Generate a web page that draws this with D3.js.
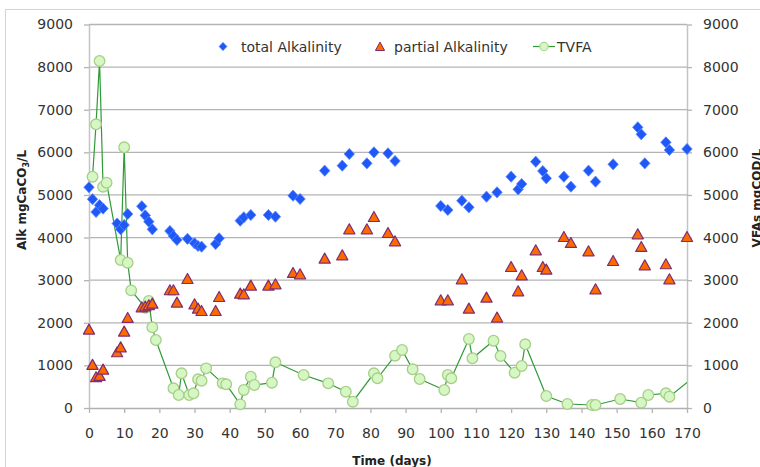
<!DOCTYPE html>
<html>
<head>
<meta charset="utf-8">
<script src="https://cdn.jsdelivr.net/npm/d3@7"></script>
<style>
  html, body { margin: 0; padding: 0; background: #ffffff; }
  svg { display: block; font-family: "DejaVu Sans", sans-serif; }
</style>
</head>
<body>
<svg id="chart" width="760" height="467"></svg>
<script>
// Sampling days shared by both alkalinity measurements
const alkDays = [0, 1, 2, 3, 4, 8, 9, 10, 11, 15, 16, 17, 18, 23, 24, 25, 28, 30, 31, 32,
  36, 37, 43, 44, 46, 51, 53, 58, 60, 67, 72, 74, 79, 81, 85, 87, 100, 102, 106, 108,
  113, 116, 120, 122, 123, 127, 129, 130, 135, 137, 142, 144, 149, 156, 157, 158, 164, 165, 170];

// Total alkalinity, mgCaCO3/L
const totalAlk = [5180, 4900, 4600, 4760, 4680, 4330, 4194, 4295, 4553, 4735, 4520, 4373, 4194,
  4154, 4037, 3943, 3970, 3865, 3802, 3786, 3849, 3982, 4396, 4475, 4529, 4529, 4490, 4983, 4905,
  5570, 5687, 5961, 5742, 6000, 5977, 5797, 4741, 4647, 4865, 4710, 4959, 5062, 5428, 5132, 5257,
  5780, 5562, 5391, 5428, 5194, 5570, 5312, 5719, 6587, 6423, 5742, 6235, 6055, 6078];

// Partial alkalinity, mgCaCO3/L
const partialAlk = [1847, 1020, 730, 760, 908, 1315, 1430, 1800, 2120, 2370, 2390, 2420, 2457,
  2770, 2770, 2480, 3035, 2440, 2340, 2284, 2284, 2612, 2691, 2675, 2879, 2879, 2910, 3176, 3145,
  3513, 3591, 4201, 4201, 4490, 4114, 3919, 2535, 2535, 3027, 2340, 2598, 2129, 3316, 2746, 3121,
  3708, 3316, 3255, 4020, 3880, 3684, 2793, 3457, 4084, 3786, 3356, 3380, 3027, 4020];

// Total volatile fatty acids, mgCOD/L (last sample lies past the axis end)
const tvfaDays = [1, 2, 3, 4, 5, 9, 10, 11, 12, 16, 17, 18, 19, 24, 25.5, 26.3, 28.5, 29.7, 31, 32,
  33.3, 38, 39, 43, 44, 46, 47, 52, 53, 61, 68, 73, 75, 81, 82, 87, 89, 92, 94, 101, 102, 103,
  108, 109, 115, 117, 121, 123, 124, 130, 136, 143, 144, 151, 157, 159, 164, 165, 172];
const tvfa = [5428, 6658, 8144, 5194, 5288, 3473, 6118, 3410, 2760, 2354, 2511, 1894, 1596, 462,
  305, 814, 305, 345, 673, 641, 931, 579, 556, 86, 422, 735, 540, 594, 1072, 774, 579, 383, 148,
  814, 697, 1227, 1361, 908, 681, 422, 774, 697, 1619, 1166, 1579, 1220, 828, 986, 1495, 282, 94,
  70, 70, 211, 125, 305, 345, 265, 730];

// Axis ticks
const xTicks = [0, 10, 20, 30, 40, 50, 60, 70, 80, 90, 100, 110, 120, 130, 140, 150, 160, 170];
const yTicks = [0, 1000, 2000, 3000, 4000, 5000, 6000, 7000, 8000, 9000];

const svg = d3.select("#chart");
const plot = { left: 89, right: 687, top: 24.5, bottom: 408 };

const x = d3.scaleLinear().domain([0, 170]).range([plot.left, plot.right]);
const yL = d3.scaleLinear().domain([0, 9000]).range([plot.bottom, plot.top]);
const yR = d3.scaleLinear().domain([0, 9000]).range([plot.bottom, plot.top]);

// Outer chart frame
svg.append("rect")
  .attr("x", 5.5).attr("y", 9.5).attr("width", 800).attr("height", 500)
  .attr("fill", "none").attr("stroke", "#d4d4d4").attr("stroke-width", 1);

// Horizontal gridlines
svg.append("g").selectAll("line").data(yTicks.filter(v => v > 0)).join("line")
  .attr("x1", plot.left).attr("x2", plot.right)
  .attr("y1", d => yL(d)).attr("y2", d => yL(d))
  .attr("stroke", "#b4b4b4").attr("stroke-width", 1.3);

function styleAxis(g) {
  g.selectAll(".domain").attr("stroke", "#c4c4c4").attr("stroke-width", 1.5);
  g.selectAll(".tick line").attr("stroke", "#b4b4b4").attr("stroke-width", 1.3);
  g.selectAll(".tick text").attr("fill", "#333").style("font-size", "14px")
    .style("font-family", "'DejaVu Sans', sans-serif");
}

// Left axis
svg.append("g").attr("transform", `translate(${plot.left},0)`)
  .call(d3.axisLeft(yL).tickValues(yTicks).tickFormat(d3.format("d"))
    .tickSize(5).tickSizeOuter(0).tickPadding(11))
  .call(styleAxis);

// Right axis
svg.append("g").attr("transform", `translate(${plot.right},0)`)
  .call(d3.axisRight(yR).tickValues(yTicks).tickFormat(d3.format("d"))
    .tickSize(5).tickSizeOuter(0).tickPadding(11))
  .call(styleAxis);

// Bottom axis
svg.append("g").attr("transform", `translate(0,${plot.bottom})`)
  .call(d3.axisBottom(x).tickValues(xTicks).tickFormat(d3.format("d"))
    .tickSize(5).tickSizeOuter(0).tickPadding(15))
  .call(styleAxis)
  .call(g => g.select(".domain").attr("stroke", "#b0b0b0"));

// Axis titles
const leftTitle = svg.append("text")
  .attr("transform", "translate(22,200) rotate(-90)")
  .attr("text-anchor", "middle").attr("dominant-baseline", "central")
  .style("font-size", "12px").style("font-weight", "bold").attr("fill", "#222");
leftTitle.append("tspan").text("Alk  mgCaCO");
leftTitle.append("tspan").attr("baseline-shift", "sub").style("font-size", "8px").text("3");
leftTitle.append("tspan").text("/L");

svg.append("text")
  .attr("transform", "translate(761,198) rotate(-90)")
  .attr("text-anchor", "middle")
  .style("font-size", "12px").style("font-weight", "bold").attr("fill", "#222")
  .text("VFAs  mgCOD/L");

svg.append("text")
  .attr("x", 392).attr("y", 465)
  .attr("text-anchor", "middle")
  .style("font-size", "12px").style("font-weight", "bold").attr("fill", "#222")
  .text("Time (days)");

// Marker shapes
const diamond = "M0,-5.6L5.2,0L0,5.6L-5.2,0Z";
const triangle = "M0,-5.2L5.6,4.8L-5.6,4.8Z";

const blueFill = "#1f58f7", blueStroke = "#5b88ff";
const triFill = "#ff6a00", triStroke = "#7d2d70";
const circFill = "#d6f6c4", circStroke = "#a6cf88", lineColor = "#2f9a37";

// Clip region for the TVFA series (line runs past the right axis)
svg.append("clipPath").attr("id", "plotClip")
  .append("rect").attr("x", 60).attr("y", 0).attr("width", plot.right - 60).attr("height", 420);

const tvfaPts = tvfaDays.map((d, i) => ({ d, v: tvfa[i] }));
const alkPts = alkDays.map((d, i) => ({ d, t: totalAlk[i], p: partialAlk[i] }));

const tvfaG = svg.append("g").attr("clip-path", "url(#plotClip)");
tvfaG.append("path").datum(tvfaPts)
  .attr("d", d3.line().x(p => x(p.d)).y(p => yR(p.v)))
  .attr("fill", "none").attr("stroke", lineColor).attr("stroke-width", 1.2);

// Total alkalinity diamonds
svg.append("g").selectAll("path").data(alkPts).join("path")
  .attr("d", diamond)
  .attr("transform", p => `translate(${x(p.d)},${yL(p.t)})`)
  .attr("fill", blueFill).attr("stroke", blueStroke).attr("stroke-width", 0.8);

// Partial alkalinity triangles
svg.append("g").selectAll("path").data(alkPts).join("path")
  .attr("d", triangle)
  .attr("transform", p => `translate(${x(p.d)},${yL(p.p)})`)
  .attr("fill", triFill).attr("stroke", triStroke).attr("stroke-width", 1.2)
  .attr("stroke-linejoin", "round");

// TVFA circles
tvfaG.append("g").selectAll("circle").data(tvfaPts).join("circle")
  .attr("cx", p => x(p.d)).attr("cy", p => yR(p.v)).attr("r", 5.3)
  .attr("fill", circFill).attr("stroke", circStroke).attr("stroke-width", 1.3);

// Legend
const legend = svg.append("g").style("font-size", "14px").attr("fill", "#333");
legend.append("path").attr("d", "M0,-4.2L4,0L0,4.2L-4,0Z")
  .attr("transform", "translate(223,46.5)").attr("fill", blueFill).attr("stroke", blueStroke).attr("stroke-width", 0.6);
legend.append("text").attr("x", 241).attr("y", 51.5).text("total Alkalinity");

legend.append("path").attr("d", "M0,-4.4L4.6,4L-4.6,4Z")
  .attr("transform", "translate(380,46.5)").attr("fill", triFill).attr("stroke", triStroke).attr("stroke-width", 1);
legend.append("text").attr("x", 394).attr("y", 51.5).text("partial Alkalinity");

legend.append("line").attr("x1", 533).attr("x2", 555).attr("y1", 46.5).attr("y2", 46.5)
  .attr("stroke", lineColor).attr("stroke-width", 1.2);
legend.append("circle").attr("cx", 544).attr("cy", 46.5).attr("r", 4.2)
  .attr("fill", circFill).attr("stroke", circStroke).attr("stroke-width", 1.1);
legend.append("text").attr("x", 557).attr("y", 51.5).text("TVFA");
</script>
</body>
</html>
